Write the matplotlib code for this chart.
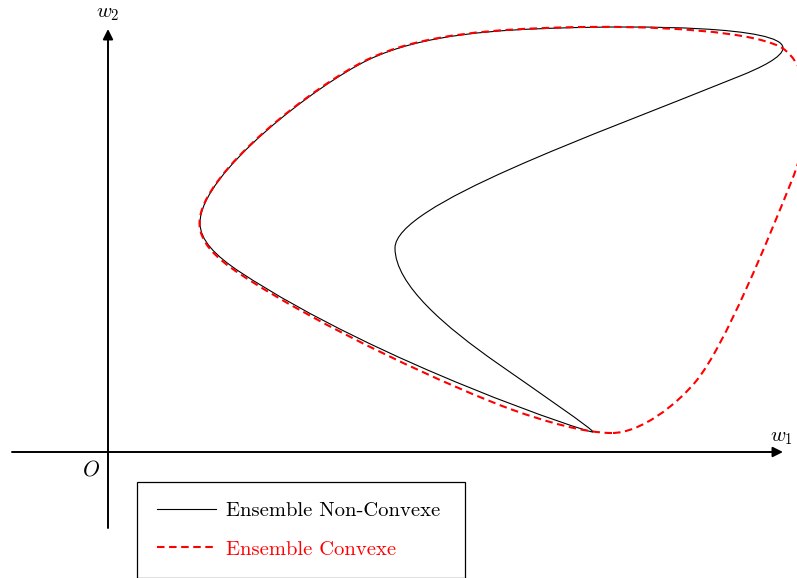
import matplotlib
matplotlib.use("Agg")
import matplotlib.pyplot as plt
from matplotlib.path import Path
from matplotlib.patches import PathPatch
from matplotlib.lines import Line2D

plt.rcParams['mathtext.fontset'] = 'cm'

# Bezier control points (start point, then 3 points per cubic segment)
nonconvex_w1 = [4.85, 4.84, 2.72, 1.32, 1.07, 0.92, 0.92, 0.92, 2.10, 2.60,
                3.15, 3.92, 4.52, 5.32, 6.75, 6.75, 6.75, 6.52, 6.32, 4.82,
                2.87, 2.87, 2.87, 3.39, 3.89, 4.29, 4.86, 4.85]
nonconvex_w2 = [0.20, 0.18, 0.88, 1.80, 1.965, 2.12, 2.29, 2.79, 3.68, 3.92,
                4.184, 4.222, 4.24, 4.265, 4.26, 4.04, 3.95, 3.84, 3.76, 3.1525,
                2.47, 2.04, 1.67, 1.24, 0.89, 0.61, 0.22, 0.20]

convex_w1 = [5.04, 4.77, 4.37, 4.05, 3.45, 2.12, 1.32, 1.07, 0.915, 0.915,
             0.915, 2.095, 2.595, 3.145, 3.92, 4.52, 5.42, 6.54, 6.77, 7.07,
             7.04, 6.84, 6.60, 6.17, 5.89, 5.69, 5.32, 5.04]
convex_w2 = [0.19, 0.19, 0.305, 0.42, 0.636, 1.25, 1.78, 1.945, 2.10, 2.29,
             2.79, 3.685, 3.925, 4.189, 4.227, 4.245, 4.274, 4.21, 4.02, 3.772,
             3.22, 2.72, 2.12, 1.07, 0.72, 0.47, 0.19, 0.19]

labels = ['Ensemble Non-Convexe', 'Ensemble Convexe']


def bezier_path(xs, ys):
    codes = [Path.MOVETO] + [Path.CURVE4] * (len(xs) - 1)
    return Path(list(zip(xs, ys)), codes)


fig = plt.figure(figsize=(7.97, 5.78), dpi=100)
ax = fig.add_axes([0, 0, 1, 1])
ax.set_xlim(-1.08, 6.89)
ax.set_ylim(-1.26, 4.52)
ax.axis('off')

# axes with arrows
arrow = dict(arrowstyle='-|>,head_length=0.6,head_width=0.3', lw=1.4,
             color='black', shrinkA=0, shrinkB=0)
ax.annotate('', xy=(6.75, 0), xytext=(-0.96, 0), arrowprops=arrow)
ax.annotate('', xy=(0, 4.23), xytext=(0, -0.76), arrowprops=arrow)
ax.text(0, 4.39, r'$w_2$', fontsize=15, ha='center', va='center')
ax.text(6.73, 0.15, r'$w_1$', fontsize=15, ha='center', va='center')
ax.text(-0.17, -0.17, r'$O$', fontsize=15.5, ha='center', va='center')

ax.add_patch(PathPatch(bezier_path(nonconvex_w1, nonconvex_w2), fill=False,
                       edgecolor='black', lw=0.8))
ax.add_patch(PathPatch(bezier_path(convex_w1, convex_w2), fill=False,
                       edgecolor='red', lw=1.5, linestyle=(0, (3.6, 2.2))))

handles = [Line2D([], [], color='black', lw=0.8),
           Line2D([], [], color='red', lw=1.5, linestyle=(0, (3.6, 2.2)))]
leg = ax.legend(handles, labels, loc='upper left', mode='expand',
                bbox_to_anchor=(137 / 797, 1 - 577 / 578, 328 / 797, 95 / 578),
                bbox_transform=fig.transFigure, borderaxespad=0,
                prop={'family': 'cmr10', 'size': 14.8},
                handlelength=2.87, handletextpad=0.49, borderpad=0.95,
                labelspacing=0.99, fancybox=False, framealpha=1,
                edgecolor='black')
leg.get_frame().set_linewidth(0.9)
leg.get_texts()[1].set_color('red')

fig.savefig('out.png', dpi=100, facecolor='white')
